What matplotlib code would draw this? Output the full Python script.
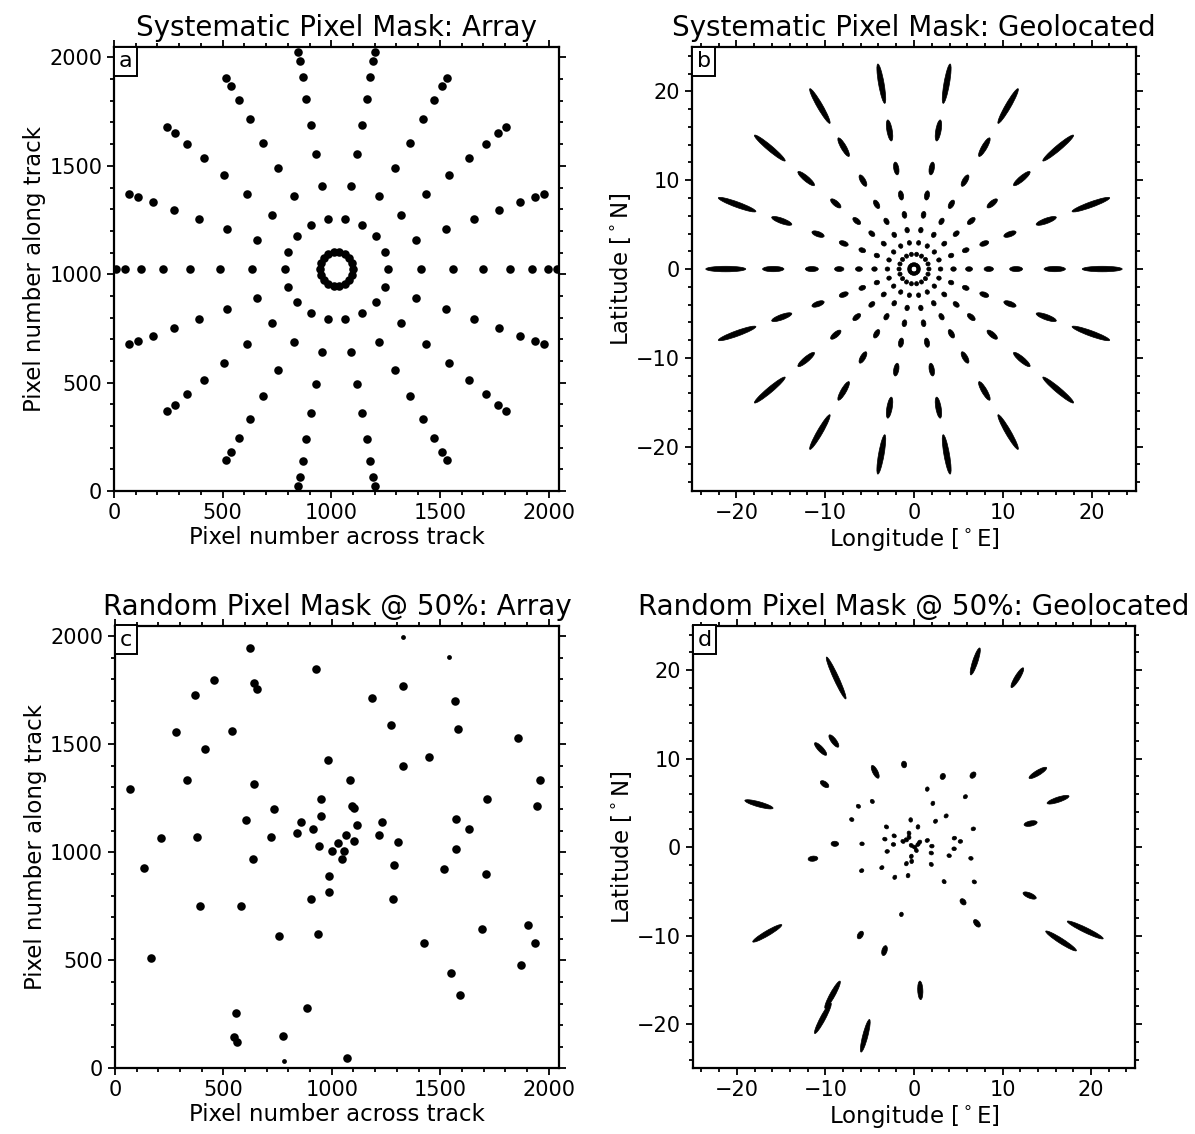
import numpy as np
import matplotlib
matplotlib.use('Agg')
import matplotlib.pyplot as plt
from matplotlib.patches import Ellipse

# ---- systematic mask: same radii on every spoke ----
spoke_angles = [0, 20, 40, 60, 80, 100, 120, 140, 160, 180,
                200, 220, 240, 260, 280, 300, 320, 340]
array_centre = [1024, 1024]
spoke_radius_px = [78, 236, 390, 537, 674, 797, 898, 973, 1017]
# same spots after geolocation (degrees from nadir) and their footprint size
spoke_radius_deg = [0.52, 1.68, 2.99, 4.45, 6.2, 8.42, 11.5, 15.85, 21.2]
spot_length_deg = [0.40, 0.48, 0.52, 0.62, 0.78, 1.05, 1.45, 2.4, 4.5]
spot_width_deg = [0.38, 0.45, 0.47, 0.50, 0.52, 0.55, 0.57, 0.60, 0.62]

# ---- random mask @ 50%: array positions ----
rand_x = [623, 929, 455, 640, 653, 369, 1185, 1327, 1570, 1580, 283, 540, 1271,
          1860, 414, 1447, 1327, 982, 332, 640, 71, 1084, 1962, 949, 1716, 1092,
          1104, 1945, 732, 949, 603, 858, 1230, 1115, 1573, 1631, 912, 839, 212,
          377, 720, 1067, 1216, 1027, 1104, 1305, 942, 1002, 1058, 1573, 1047,
          635, 135, 1287, 1517, 1711, 989, 989, 904, 1284, 392, 583, 755, 936,
          1694, 1905, 1424, 1936, 168, 1871, 1551, 1591, 558, 884, 550, 563,
          776, 1070]
rand_y = [1945, 1850, 1795, 1783, 1756, 1729, 1715, 1767, 1700, 1571, 1557, 1560,
          1591, 1529, 1478, 1439, 1400, 1425, 1336, 1314, 1294, 1336, 1336, 1248,
          1245, 1216, 1204, 1213, 1199, 1168, 1148, 1142, 1141, 1127, 1154, 1107,
          1108, 1091, 1067, 1073, 1071, 1078, 1078, 1041, 1051, 1048, 1031, 1007,
          1005, 1016, 970, 967, 929, 941, 921, 899, 890, 816, 784, 784, 750, 753,
          615, 623, 646, 664, 581, 580, 511, 480, 443, 342, 257, 280, 147, 121,
          148, 50]
# spots only partly on the array
part_x = [1330, 1539, 781]
part_y = [1994, 1902, 36]

# ---- random mask @ 50%: geolocated ----
long_lon = [-8.79, 6.92, 11.67, -10.55, -9.05, -4.38, -1.12, 3.25, 6.66, -10.10,
            13.99, 16.27, -17.51, 13.17, -11.41, 13.06, -16.57, 19.34, 16.61,
            -6.06, -3.33, 0.71, -9.20, -10.29, -5.50, 7.11, 5.54, -8.94]
long_lat = [19.10, 20.97, 19.13, 11.08, 11.98, 8.50, 9.33, 7.98, 8.13, 7.11,
            8.38, 5.35, 4.83, 2.66, -1.31, -5.47, -9.74, -9.36, -10.60,
            -9.93, -11.69, -16.18, -16.67, -19.33, -21.31, -8.61, -6.18, 0.37]
long_len = [5.2, 3.2, 2.6, 1.9, 1.7, 1.6, 0.75, 0.7, 0.8, 1.1,
            2.3, 2.6, 3.3, 1.5, 1.1, 1.6, 3.8, 4.5, 4.1,
            0.95, 1.15, 2.1, 3.5, 3.9, 3.8, 1.0, 0.8, 0.85]
dot_lon = [1.50, 5.80, 2.13, -4.71, -6.28, -7.03, -0.37, 2.43, 3.63, 6.70, -3.11,
           0.45, -2.24, -0.56, -3.29, 1.50, 4.56, 5.24, -5.87, -2.32, 2.02,
           4.53, -3.03, 1.95, 3.97, 6.43, -0.30, -0.26, -0.86, 1.95, -3.63, -5.91,
           -2.17, -0.67, 3.40, 6.81, -1.42, -1.24, -0.86, -0.56, -0.30, 0.07,
           0.45, 0.26, 0.64]
dot_lat = [6.55, 5.69, 4.94, 5.16, 4.61, 3.11, 3.07, 2.92, 3.52, 2.06, 2.28,
           2.28, 1.27, 1.57, 0.90, 0.75, 1.01, 0.64, 0.37, 0.30, 0.11,
           -0.19, -0.49, -0.67, -0.97, -1.27, -1.05, -1.61, -1.87, -1.95, -2.32, -2.66,
           -3.41, -3.22, -3.90, -3.93, -7.60, 0.64, 0.82, 1.12, 0.19, 0.00,
           0.30, -0.37, 0.56]

TICK_FS = 15
LABEL_FS = 16.5
TITLE_FS = 20

fig = plt.figure(figsize=(11.95, 11.34), dpi=100)
ax_a = fig.add_axes([0.0954, 0.567, 0.3724, 0.3915])
ax_b = fig.add_axes([0.5791, 0.567, 0.3715, 0.3915])
ax_c = fig.add_axes([0.0962, 0.0578, 0.3716, 0.3904])
ax_d = fig.add_axes([0.5791, 0.0578, 0.3715, 0.3904])


def style(ax, letter, title, xlabel, ylabel):
    for sp in ax.spines.values():
        sp.set_linewidth(1.6)
    ax.tick_params(which='both', direction='out', top=True, right=True,
                   labelsize=TICK_FS, width=1.3)
    ax.tick_params(which='major', length=5)
    ax.tick_params(which='minor', length=3)
    ax.set_title(title, fontsize=TITLE_FS, pad=8)
    ax.set_xlabel(xlabel, fontsize=LABEL_FS, labelpad=2)
    ax.set_ylabel(ylabel, fontsize=LABEL_FS, labelpad=2)
    ax.annotate(letter, xy=(0, 1), xycoords='axes fraction', xytext=(3.5, -3),
                textcoords='offset points', ha='left', va='top', fontsize=16,
                bbox=dict(boxstyle='square,pad=0.2', fc='white', ec='black', lw=1.4),
                zorder=10)


def array_axes(ax):
    ax.set_xlim(0, 2048)
    ax.set_ylim(0, 2048)
    ax.set_xticks([0, 500, 1000, 1500, 2000])
    ax.set_yticks([0, 500, 1000, 1500, 2000])
    ax.set_xticks(np.arange(0, 2048, 100), minor=True)
    ax.set_yticks(np.arange(0, 2048, 100), minor=True)


def geo_axes(ax):
    ax.set_xlim(-25, 25)
    ax.set_ylim(-25, 25)
    ax.set_aspect('equal')
    ax.set_xticks([-20, -10, 0, 10, 20])
    ax.set_yticks([-20, -10, 0, 10, 20])
    ax.set_xticks(np.arange(-24, 25, 2), minor=True)
    ax.set_yticks(np.arange(-24, 25, 2), minor=True)


def footprint(ax, lon, lat, length, width):
    ang = np.degrees(np.arctan2(lat, lon))
    ax.add_patch(Ellipse((lon, lat), width=length, height=width, angle=ang,
                         fc='black', ec='black', lw=0.5))


# panel a
th = np.radians(spoke_angles)
for r in spoke_radius_px:
    ax_a.scatter(array_centre[0] + r * np.cos(th), array_centre[1] + r * np.sin(th),
                 s=38, c='black', linewidths=0)
array_axes(ax_a)
style(ax_a, 'a', 'Systematic Pixel Mask: Array',
      'Pixel number across track', 'Pixel number along track')

# panel b
for r, L, W in zip(spoke_radius_deg, spot_length_deg, spot_width_deg):
    for t in th:
        footprint(ax_b, r * np.cos(t), r * np.sin(t), L, W)
geo_axes(ax_b)
style(ax_b, 'b', 'Systematic Pixel Mask: Geolocated',
      r'Longitude [$^\circ$E]', r'Latitude [$^\circ$N]')

# panel c
ax_c.scatter(rand_x, rand_y, s=38, c='black', linewidths=0)
ax_c.scatter(part_x, part_y, s=12, c='black', linewidths=0)
array_axes(ax_c)
style(ax_c, 'c', 'Random Pixel Mask @ 50%: Array',
      'Pixel number across track', 'Pixel number along track')

# panel d
for lo, la, L in zip(long_lon, long_lat, long_len):
    footprint(ax_d, lo, la, L, 0.58)
for lo, la in zip(dot_lon, dot_lat):
    footprint(ax_d, lo, la, 0.5, 0.42)
geo_axes(ax_d)
style(ax_d, 'd', 'Random Pixel Mask @ 50%: Geolocated',
      r'Longitude [$^\circ$E]', r'Latitude [$^\circ$N]')

fig.savefig('out.png', dpi=100)
